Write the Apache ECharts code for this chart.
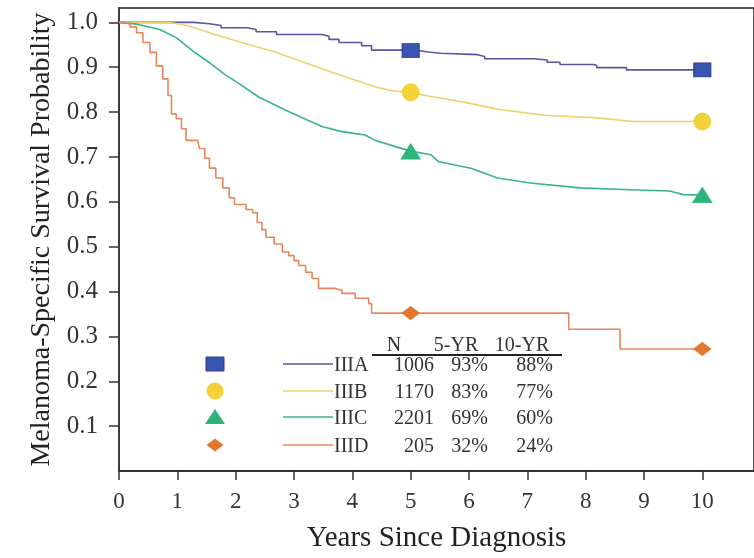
<!DOCTYPE html>
<html>
<head>
<meta charset="utf-8">
<script src="https://cdn.jsdelivr.net/npm/echarts@6/dist/echarts.min.js"></script>
<style>
  html, body { margin: 0; padding: 0; background: #fff; }
  #chart { width: 754px; height: 558px; }
</style>
</head>
<body>
<div id="chart"></div>
<script>
// Kaplan-Meier melanoma-specific survival by stage III subgroup
const stages = ['IIIA', 'IIIB', 'IIIC', 'IIID'];
const stageN = ['1006', '1170', '2201', '205'];
const fiveYear = ['93%', '83%', '69%', '32%'];
const tenYear = ['88%', '77%', '60%', '24%'];

const xTicks = [0, 1, 2, 3, 4, 5, 6, 7, 8, 9, 10];
const yTicks = [0.1, 0.2, 0.3, 0.4, 0.5, 0.6, 0.7, 0.8, 0.9, 1.0];

// survival curves: time (years) and survival probability
const iiiaT = [0, 1.28, 1.55, 1.75, 2.2, 2.35, 2.7, 3.48, 3.6, 3.77, 4.16, 4.33, 5.1, 5.3, 5.52, 6.15, 6.27, 7.12, 7.34, 7.56, 8.14, 8.19, 8.7, 10.0];
const iiiaS = [1.0, 0.997, 0.993, 0.988, 0.984, 0.979, 0.973, 0.969, 0.962, 0.955, 0.948, 0.938, 0.934, 0.931, 0.928, 0.924, 0.919, 0.916, 0.911, 0.906, 0.904, 0.899, 0.894, 0.894];

const iiibT = [0, 0.9, 1.2, 1.55, 2.1, 2.7, 3.25, 3.8, 4.4, 4.7, 5.0, 5.3, 5.6, 6.0, 6.5, 7.3, 8.2, 8.8, 10.0];
const iiibS = [1.0, 0.999, 0.992, 0.977, 0.955, 0.933, 0.907, 0.882, 0.856, 0.847, 0.844, 0.836, 0.829, 0.82, 0.806, 0.793, 0.787, 0.779, 0.779];

const iiicT = [0, 0.3, 0.5, 0.7, 0.98, 1.27, 1.55, 1.8, 2.11, 2.4, 2.86, 3.2, 3.48, 3.8, 4.05, 4.22, 4.39, 4.74, 5.0, 5.35, 5.47, 6.03, 6.49, 7.05, 7.9, 8.76, 9.44, 9.68, 10.0];
const iiicS = [1.0, 0.996, 0.99, 0.984, 0.966, 0.936, 0.91, 0.885, 0.859, 0.833, 0.804, 0.784, 0.768, 0.757, 0.752, 0.749, 0.737, 0.723, 0.713, 0.705, 0.69, 0.675, 0.653, 0.642, 0.631, 0.627, 0.624, 0.616, 0.615];

const iiidT = [0, 0.1, 0.19, 0.3, 0.41, 0.53, 0.64, 0.75, 0.84, 0.9, 0.98, 1.07, 1.15, 1.35, 1.38, 1.47, 1.55, 1.66, 1.78, 1.89, 1.98, 2.18, 2.29, 2.37, 2.45, 2.52, 2.66, 2.8, 2.91, 3.0, 3.08, 3.2, 3.31, 3.42, 3.71, 3.82, 4.05, 4.28, 4.33, 7.71, 8.59, 10.0];
const iiidS = [1.0, 0.996, 0.99, 0.977, 0.955, 0.933, 0.903, 0.874, 0.837, 0.796, 0.785, 0.763, 0.737, 0.734, 0.719, 0.697, 0.675, 0.653, 0.631, 0.609, 0.594, 0.583, 0.576, 0.554, 0.538, 0.521, 0.506, 0.488, 0.48, 0.469, 0.458, 0.443, 0.429, 0.407, 0.403, 0.396, 0.385, 0.373, 0.352, 0.316, 0.272, 0.272];

// 5- and 10-year markers on each curve
const markYears = [5, 10];
const iiiaMarks = [0.937, 0.894];
const iiibMarks = [0.844, 0.779];
const iiicMarks = [0.712, 0.615];
const iiidMarks = [0.352, 0.272];

const SERIF = "'Liberation Serif', 'DejaVu Serif', serif";
const lineColors = ['#5656a2', '#f0d06c', '#3ab48a', '#e98658'];
const markColors = ['#3a54b2', '#f2d236', '#2db478', '#e2772f'];
const markBorders = ['#2a3e8e', '#f2d236', '#2db478', '#e2772f'];
const markSymbols = ['rect', 'circle', 'triangle', 'diamond'];
const markSizes = [[17, 14], 17, [19, 15], [17, 13]];

const zip = (a, b) => a.map((v, i) => [v, b[i]]);
const curves = [zip(iiiaT, iiiaS), zip(iiibT, iiibS), zip(iiicT, iiicS), zip(iiidT, iiidS)];
const steps = ['end', false, false, 'end'];
const marks = [iiiaMarks, iiibMarks, iiicMarks, iiidMarks].map(m => zip(markYears, m));

const series = [];
curves.forEach((data, i) => {
  series.push({
    name: stages[i], type: 'line', data, step: steps[i], symbol: 'none',
    lineStyle: { color: lineColors[i], width: 1.6 }, z: 2, silent: true
  });
});
marks.forEach((data, i) => {
  series.push({
    name: stages[i] + '-marks', type: 'scatter', data,
    symbol: markSymbols[i], symbolSize: markSizes[i],
    itemStyle: { color: markColors[i], borderColor: markBorders[i], borderWidth: 1, opacity: 1 },
    z: 4, silent: true
  });
});

// legend table
const rowY = [364, 391, 417, 445];
const graphics = [];
const txt = (x, y, s, align) => ({
  type: 'text', x, y, z: 10,
  style: { text: s, font: "20px " + SERIF, fill: '#333', textAlign: align, textVerticalAlign: 'middle' }
});
graphics.push(txt(394, 346, 'N', 'center'));
graphics.push(txt(456, 346, '5-YR', 'center'));
graphics.push(txt(522, 346, '10-YR', 'center'));
graphics.push({ type: 'line', z: 10, shape: { x1: 372, y1: 355, x2: 562, y2: 355 }, style: { stroke: '#222', lineWidth: 2 } });
stages.forEach((s, i) => {
  const y = rowY[i];
  const mx = 215;
  let mk;
  if (i === 0) mk = { type: 'rect', shape: { x: mx - 9, y: y - 7, width: 18, height: 14 }, style: { fill: markColors[0], stroke: markBorders[0], lineWidth: 1 } };
  else if (i === 1) mk = { type: 'circle', shape: { cx: mx, cy: y, r: 8.5 }, style: { fill: markColors[1] } };
  else if (i === 2) mk = { type: 'polygon', shape: { points: [[mx, y - 8], [mx + 10, y + 7], [mx - 10, y + 7]] }, style: { fill: markColors[2] } };
  else mk = { type: 'polygon', shape: { points: [[mx, y - 6.5], [mx + 8.5, y], [mx, y + 6.5], [mx - 8.5, y]] }, style: { fill: markColors[3] } };
  mk.z = 10;
  graphics.push(mk);
  graphics.push({ type: 'line', z: 10, shape: { x1: 283, y1: y, x2: 333, y2: y }, style: { stroke: lineColors[i], lineWidth: 1.6 } });
  graphics.push(txt(334, y + 2, s, 'left'));
  graphics.push(txt(434, y + 2, stageN[i], 'right'));
  graphics.push(txt(488, y + 2, fiveYear[i], 'right'));
  graphics.push(txt(553, y + 2, tenYear[i], 'right'));
});

const chart = echarts.init(document.getElementById('chart'), null, { renderer: 'canvas' });
chart.setOption({
  animation: false,
  backgroundColor: '#ffffff',
  grid: { left: 119, top: 8, right: -4, bottom: 80, show: true, borderColor: '#555', borderWidth: 2 },
  xAxis: {
    type: 'value', min: 0, max: 10.886, interval: 1,
    name: 'Years Since Diagnosis', nameLocation: 'middle', nameGap: 53,
    nameTextStyle: { fontFamily: SERIF, fontSize: 29, color: '#222' },
    axisLine: { show: true, lineStyle: { color: '#333', width: 2 } },
    axisTick: { show: true, length: 9, inside: false, lineStyle: { color: '#333', width: 1.5 }, customValues: xTicks },
    axisLabel: { fontFamily: SERIF, fontSize: 23, color: '#333', margin: 19, customValues: xTicks },
    splitLine: { show: false }
  },
  yAxis: {
    type: 'value', min: 0, max: 1.032, interval: 0.1,
    name: 'Melanoma-Specific Survival Probability', nameLocation: 'middle', nameGap: 63,
    nameTextStyle: { fontFamily: SERIF, fontSize: 28, color: '#222' },
    axisLine: { show: true, lineStyle: { color: '#333', width: 1.5 } },
    axisTick: { show: true, length: 10, lineStyle: { color: '#333', width: 1.5 }, customValues: yTicks },
    axisLabel: { fontFamily: SERIF, fontSize: 25, color: '#333', margin: 21, customValues: yTicks, formatter: v => v.toFixed(1) },
    splitLine: { show: false }
  },
  series,
  graphic: graphics
});
</script>
</body>
</html>
